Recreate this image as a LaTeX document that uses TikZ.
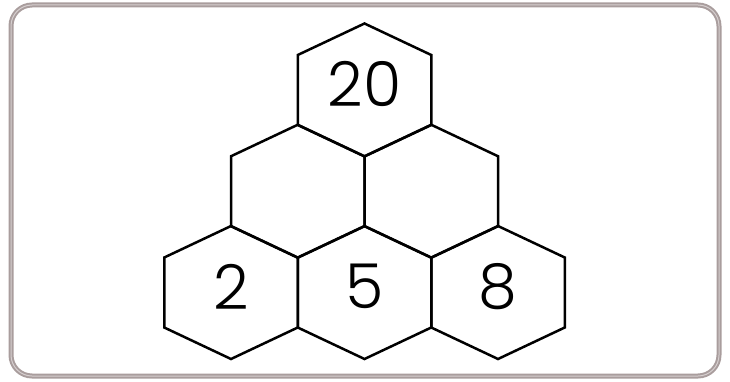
\documentclass[tikz,border=0pt]{standalone}
\usepackage{fontspec}
\setmainfont{Poppins Light}

\definecolor{framegray}{HTML}{A99D9D}
\definecolor{framelight}{HTML}{D6CFCF}

\begin{document}
\begin{tikzpicture}[x=1pt,y=1pt]

	\tikzset{
		hexline/.style={
			draw=black,
			line width=2.5pt,
			line join=miter
		},
		digit/.style={
			inner sep=0pt,
			yshift=6pt,
			font=\fontsize{62}{62}\selectfont
		},
		frame/.style={
			draw=framegray,
			line width=2pt,
			double=framelight,
			double distance=1pt,
			rounded corners=21pt
		}
	}

	\useasboundingbox (0,0) rectangle (730,381);

	% FRAME
	\draw[frame] (11,5) rectangle (719,376);

	% HEXAGON CELLS
	\foreach \cx/\cy/\cname/\ctext in {
		364.5/291/top/20,
		297.75/189.75/midleft/,
		431.25/189.75/midright/,
		231/88.5/botleft/2,
		364.5/88.5/botmid/5,
		498/88.5/botright/8}
	{
		\draw[hexline] (\cx,\cy) ++(0,66.5) -- ++(66.75,-31.5) -- ++(0,-70)
			-- ++(-66.75,-31.5) -- ++(-66.75,31.5) -- ++(0,70) -- cycle;
		\node[digit] (\cname) at (\cx,\cy) {\ctext};
	}

\end{tikzpicture}
\end{document}
